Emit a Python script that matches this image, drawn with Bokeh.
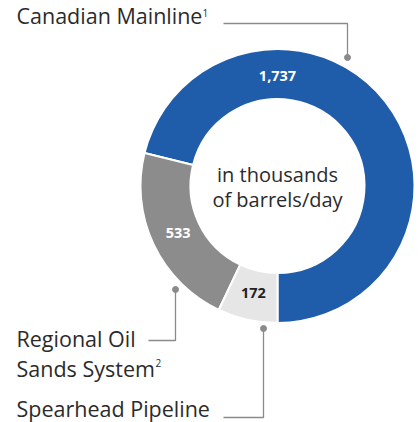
import numpy as np
from bokeh.plotting import figure
from bokeh.models import Range1d, ColumnDataSource
from bokeh.core.properties import value
from bokeh.embed import file_html
from bokeh.resources import INLINE

categories = ["Canadian Mainline", "Regional Oil Sands System", "Spearhead Pipeline"]
values = [1737, 533, 172]
value_labels = ["1,737", "533", "172"]
colors = ["#1F5DAB", "#8C8C8C", "#E6E6E6"]
label_colors = ["#FFFFFF", "#FFFFFF", "#222222"]

W, H = 418, 422
cx, cy = 277, H - 185.5
R_out, R_in = 137, 87

vals = np.array(values, dtype=float)
frac = vals / vals.sum()
ends = -np.pi / 2 + np.cumsum(frac) * 2 * np.pi
starts = np.concatenate([[-np.pi / 2], ends[:-1]])
mids = (starts + ends) / 2
mids[0] = np.pi / 2  # big slice label sits at the top
r_lab = (R_out + R_in) / 2 - 2
lx = cx + r_lab * np.cos(mids)
ly = cy + r_lab * np.sin(mids)

src = ColumnDataSource(dict(start=starts, end=ends, color=colors,
                            lx=lx, ly=ly, txt=value_labels, tcol=label_colors))

p = figure(width=W, height=H, output_backend="svg", toolbar_location=None,
           x_range=Range1d(0, W), y_range=Range1d(0, H), min_border=0,
           margin=(0, 0, 0, 0))
p.axis.visible = False
p.grid.visible = False
p.outline_line_color = None
p.background_fill_color = "white"

p.annular_wedge(x=cx, y=cy, inner_radius=R_in, outer_radius=R_out,
                start_angle="start", end_angle="end", color="color",
                line_color="white", line_width=2, source=src)

tf = value("Open Sans")
p.text(x="lx", y="ly", text="txt", text_color="tcol", source=src,
       text_font=tf, text_font_style="bold", text_font_size="14.5px",
       text_align="center", text_baseline="middle")

tc = "#2b2b2b"
# center text
p.text(x=[cx, cx], y=[H - 173.5, H - 199], text=["in thousands", "of barrels/day"],
       text_font=tf, text_font_size="20px", text_color=tc,
       text_align="center", text_baseline="middle")

lc = "#8a8a8a"
def seg(xs, ys):
    p.line(xs, [H - y for y in ys], line_color=lc, line_width=1.3)

seg([223, 347, 347], [23, 23, 57])
p.scatter([347], [H - 57], size=6, color=lc)
seg([148, 175, 175], [340, 340, 289])
p.scatter([175], [H - 289], size=6, color=lc)
seg([223, 263, 263], [417, 417, 328])
p.scatter([263], [H - 328], size=6, color=lc)

fs = "21.5px"
p.text(x=[16, 16, 16, 16], y=[H - 14.5, H - 337.5, H - 367.5, H - 407.5],
       text=["Canadian Mainline", "Regional Oil", "Sands System", "Spearhead Pipeline"],
       text_font=tf, text_font_size=fs, text_color=tc, text_baseline="middle")
# footnote markers
p.text(x=[202, 155], y=[H - 12, H - 362], text=["1", "2"],
       text_font=tf, text_font_size="10px", text_color=tc, text_baseline="middle")

open("out.html", "w").write(file_html(p, INLINE))
